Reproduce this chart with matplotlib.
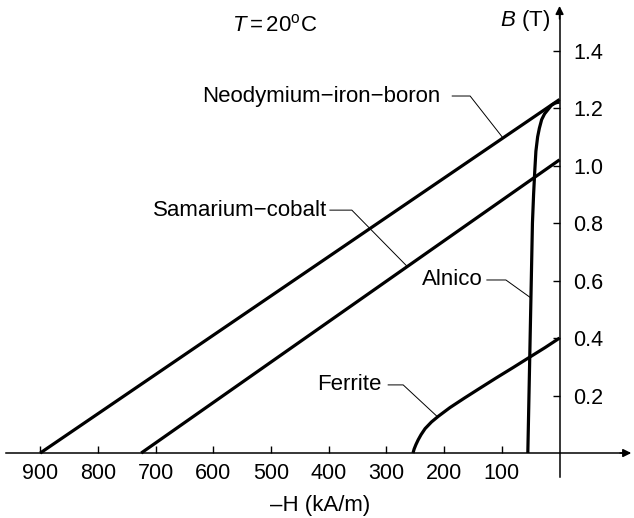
import matplotlib
matplotlib.use("Agg")
import matplotlib.pyplot as plt

plt.rcParams["font.family"] = ["Liberation Sans", "DejaVu Sans"]
plt.rcParams["mathtext.fontset"] = "custom"
plt.rcParams["mathtext.rm"] = "Liberation Sans"
plt.rcParams["mathtext.it"] = "Liberation Sans:italic"

# demagnetisation curves, -H in kA/m, B in T
ndfeb_h = [900, 0]
ndfeb_b = [0, 1.23]
smco_h = [725, 0]
smco_b = [0, 1.02]
alnico_h = [55, 53, 51, 49, 47, 45, 43, 41, 38, 35, 31, 26, 20, 14, 8, 3, 0]
alnico_b = [0, 0.2, 0.4, 0.6, 0.8, 0.9, 0.98, 1.05, 1.1, 1.13, 1.16, 1.18, 1.195, 1.21, 1.217, 1.22, 1.22]
ferrite_h = [254, 252, 249, 245, 240, 233, 222, 210, 190, 165, 140, 110, 80, 53, 25, 0]
ferrite_b = [0, 0.014, 0.029, 0.046, 0.064, 0.085, 0.108, 0.128, 0.158, 0.191, 0.223, 0.261, 0.298, 0.332, 0.367, 0.40]

x_ticks = [900, 800, 700, 600, 500, 400, 300, 200, 100]
y_ticks = [0.2, 0.4, 0.6, 0.8, 1.0, 1.2, 1.4]

fig = plt.figure(figsize=(6.34, 5.18), dpi=100)
ax = fig.add_axes([0, 0, 1, 1])
ax.set_xlim(969.7, -129)
ax.set_ylim(-0.226, 1.576)

curve = dict(color="black", lw=2.3, solid_capstyle="butt", solid_joinstyle="round")
ax.plot(ndfeb_h, ndfeb_b, **curve)
ax.plot(smco_h, smco_b, **curve)
ax.plot(alnico_h, alnico_b, **curve)
ax.plot(ferrite_h, ferrite_b, **curve)

# axes through the origin
for s in ["top", "left"]:
    ax.spines[s].set_visible(False)
ax.spines["bottom"].set_position(("data", 0))
ax.spines["right"].set_position(("data", 0))
ax.spines["bottom"].set_bounds(959, -120)
ax.spines["right"].set_bounds(-0.083, 1.54)
for s in ["bottom", "right"]:
    ax.spines[s].set_linewidth(1.1)
ax.annotate("", xy=(-129, 0), xytext=(-100, 0),
            arrowprops=dict(arrowstyle="-|>", color="black", lw=1.1, mutation_scale=12))
ax.annotate("", xy=(0, 1.565), xytext=(0, 1.5),
            arrowprops=dict(arrowstyle="-|>", color="black", lw=1.1, mutation_scale=12))

ax.set_xticks(x_ticks)
ax.set_xticklabels([str(v) for v in x_ticks])
ax.yaxis.tick_right()
ax.set_yticks(y_ticks)
ax.set_yticklabels([f"{v:.1f}" for v in y_ticks])
ax.tick_params(axis="x", direction="in", length=5, width=1, labelsize=15.5, pad=7)
ax.tick_params(axis="y", direction="in", length=5, width=1, labelsize=15.5, pad=10)

fs = 16
ax.text(415, -0.181, "\u2013H (kA/m)", fontsize=fs, ha="center", va="center")
ax.text(16.5, 1.506, "$B$ (T)", fontsize=fs, ha="right", va="center")
ax.text(567, 1.489, r"$T\,\!=\!\,20^{\mathrm{o}}$C", fontsize=fs, ha="left", va="center")

# labels with leader lines
thin = dict(color="black", lw=0.7)
ax.text(207, 1.242, "Neodymium\u2212iron\u2212boron", fontsize=fs, ha="right", va="center")
ax.plot([186, 155, 98], [1.242, 1.242, 1.096], **thin)

ax.text(403, 0.845, "Samarium\u2212cobalt", fontsize=fs, ha="right", va="center")
ax.plot([398, 360, 264], [0.845, 0.845, 0.649], **thin)

ax.text(134, 0.602, "Alnico", fontsize=fs, ha="right", va="center")
ax.plot([126, 93, 50], [0.602, 0.602, 0.54], **thin)

ax.text(308, 0.237, "Ferrite", fontsize=fs, ha="right", va="center")
ax.plot([297, 271, 212], [0.237, 0.237, 0.127], **thin)

fig.savefig("out.png", dpi=100)
